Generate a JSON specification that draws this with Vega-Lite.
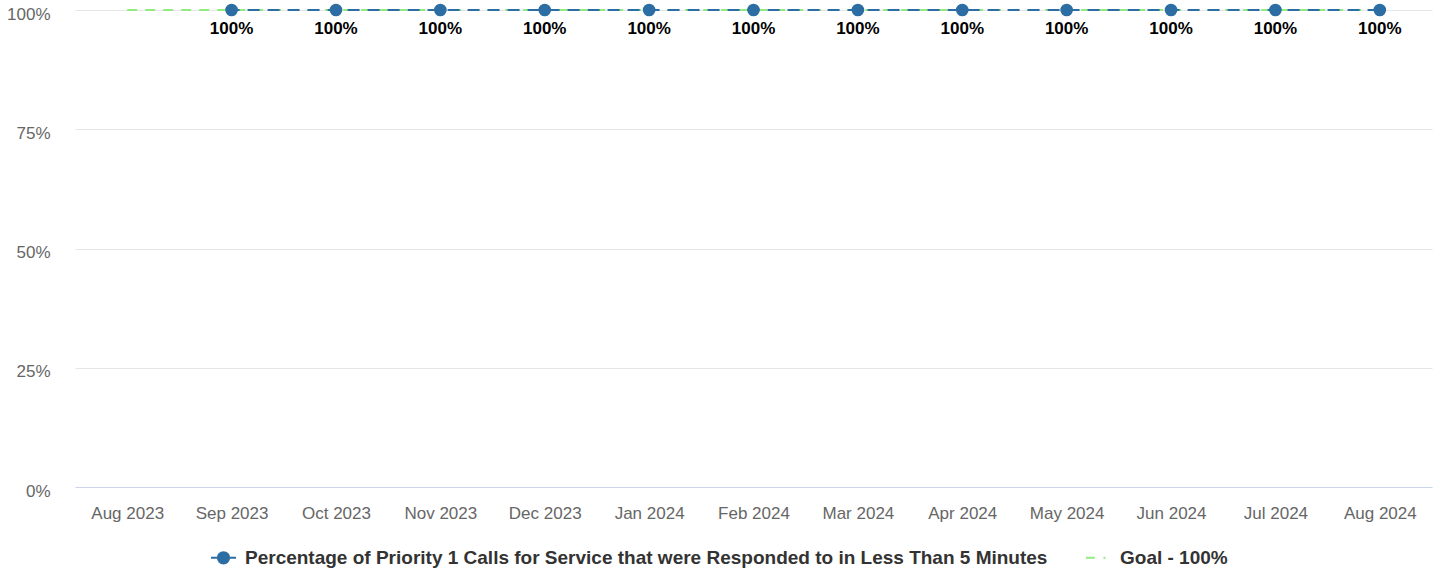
{
  "$schema": "https://vega.github.io/schema/vega-lite/v6.json",
  "width": 1357,
  "height": 477,
  "autosize": {"type": "none"},
  "padding": {"left": 75, "top": 10, "right": 8, "bottom": 84},
  "background": "white",
  "config": {
    "view": {"stroke": null},
    "font": "Liberation Sans"
  },
  "data": {
    "values": [
      {"month": "Aug 2023", "series": "Goal - 100%", "value": 1},
      {"month": "Sep 2023", "series": "Goal - 100%", "value": 1},
      {"month": "Oct 2023", "series": "Goal - 100%", "value": 1},
      {"month": "Nov 2023", "series": "Goal - 100%", "value": 1},
      {"month": "Dec 2023", "series": "Goal - 100%", "value": 1},
      {"month": "Jan 2024", "series": "Goal - 100%", "value": 1},
      {"month": "Feb 2024", "series": "Goal - 100%", "value": 1},
      {"month": "Mar 2024", "series": "Goal - 100%", "value": 1},
      {"month": "Apr 2024", "series": "Goal - 100%", "value": 1},
      {"month": "May 2024", "series": "Goal - 100%", "value": 1},
      {"month": "Jun 2024", "series": "Goal - 100%", "value": 1},
      {"month": "Jul 2024", "series": "Goal - 100%", "value": 1},
      {"month": "Aug 2024", "series": "Goal - 100%", "value": 1},
      {"month": "Sep 2023", "series": "Percentage of Priority 1 Calls for Service that were Responded to in Less Than 5 Minutes", "value": 1},
      {"month": "Oct 2023", "series": "Percentage of Priority 1 Calls for Service that were Responded to in Less Than 5 Minutes", "value": 1},
      {"month": "Nov 2023", "series": "Percentage of Priority 1 Calls for Service that were Responded to in Less Than 5 Minutes", "value": 1},
      {"month": "Dec 2023", "series": "Percentage of Priority 1 Calls for Service that were Responded to in Less Than 5 Minutes", "value": 1},
      {"month": "Jan 2024", "series": "Percentage of Priority 1 Calls for Service that were Responded to in Less Than 5 Minutes", "value": 1},
      {"month": "Feb 2024", "series": "Percentage of Priority 1 Calls for Service that were Responded to in Less Than 5 Minutes", "value": 1},
      {"month": "Mar 2024", "series": "Percentage of Priority 1 Calls for Service that were Responded to in Less Than 5 Minutes", "value": 1},
      {"month": "Apr 2024", "series": "Percentage of Priority 1 Calls for Service that were Responded to in Less Than 5 Minutes", "value": 1},
      {"month": "May 2024", "series": "Percentage of Priority 1 Calls for Service that were Responded to in Less Than 5 Minutes", "value": 1},
      {"month": "Jun 2024", "series": "Percentage of Priority 1 Calls for Service that were Responded to in Less Than 5 Minutes", "value": 1},
      {"month": "Jul 2024", "series": "Percentage of Priority 1 Calls for Service that were Responded to in Less Than 5 Minutes", "value": 1},
      {"month": "Aug 2024", "series": "Percentage of Priority 1 Calls for Service that were Responded to in Less Than 5 Minutes", "value": 1}
    ]
  },
  "encoding": {
    "x": {
      "field": "month",
      "type": "ordinal",
      "sort": ["Aug 2023", "Sep 2023", "Oct 2023", "Nov 2023", "Dec 2023", "Jan 2024", "Feb 2024", "Mar 2024", "Apr 2024", "May 2024", "Jun 2024", "Jul 2024", "Aug 2024"],
      "scale": {"type": "point", "padding": 0.5},
      "axis": {
        "title": null,
        "labelAngle": 0,
        "ticks": false,
        "labelPadding": 18,
        "labelFontSize": 17,
        "labelColor": "#666666",
        "domainColor": "#ccd6eb",
        "domainWidth": 1,
        "grid": false
      }
    },
    "y": {
      "field": "value",
      "type": "quantitative",
      "scale": {"domain": [0, 1], "nice": false},
      "axis": {
        "title": null,
        "values": [0, 0.25, 0.5, 0.75, 1],
        "format": ".0%",
        "ticks": false,
        "domain": false,
        "labelPadding": 25,
        "labelOffset": 4,
        "labelFontSize": 17,
        "labelColor": "#666666",
        "gridColor": "#e6e6e6",
        "gridWidth": 1
      }
    }
  },
  "layer": [
    {
      "transform": [{"filter": "datum.series === 'Goal - 100%'"}],
      "mark": {"type": "line", "strokeWidth": 2},
      "encoding": {
        "color": {
          "field": "series",
          "type": "nominal",
          "scale": {
            "domain": ["Percentage of Priority 1 Calls for Service that were Responded to in Less Than 5 Minutes", "Goal - 100%"],
            "range": ["#2c6ea3", "#90ed7d"]
          },
          "legend": {
            "title": null,
            "orient": "none",
            "direction": "horizontal",
            "legendX": 135,
            "legendY": 534,
            "labelFont": "Liberation Sans",
            "labelFontSize": 19,
            "labelFontWeight": "bold",
            "labelColor": "#333333",
            "labelOffset": 8,
            "labelLimit": 0,
            "columnPadding": 34,
            "symbolSize": 625,
            "symbolStrokeWidth": 2,
            "encode": {
              "symbols": {
                "update": {
                  "shape": {"signal": "datum.value === 'Goal - 100%' ? 'M-1,0L-0.3,0M0.4,0L0.55,0' : 'M-1,0L1,0M-0.45,0a0.45,0.45 0 1,0 0.9,0a0.45,0.45 0 1,0 -0.9,0'"},
                  "fill": {"signal": "datum.value === 'Goal - 100%' ? 'transparent' : '#2c6ea3'"},
                  "strokeDash": {"value": []}
                }
              }
            }
          }
        },
        "strokeDash": {"value": [10, 8]}
      }
    },
    {
      "transform": [{"filter": "datum.series !== 'Goal - 100%'"}],
      "mark": {"type": "line", "strokeWidth": 2, "color": "#2c6ea3", "strokeDash": [12, 8], "strokeDashOffset": 4},
      "encoding": {}
    },
    {
      "transform": [{"filter": "datum.series !== 'Goal - 100%'"}],
      "mark": {"type": "point", "filled": true, "opacity": 1, "size": 160, "color": "#2c6ea3"},
      "encoding": {}
    },
    {
      "transform": [{"filter": "datum.series !== 'Goal - 100%'"}],
      "mark": {"type": "text", "dy": 19, "fontSize": 17, "fontWeight": "bold", "color": "#000000", "baseline": "middle"},
      "encoding": {
        "text": {"field": "value", "type": "quantitative", "format": ".0%"}
      }
    }
  ]
}
